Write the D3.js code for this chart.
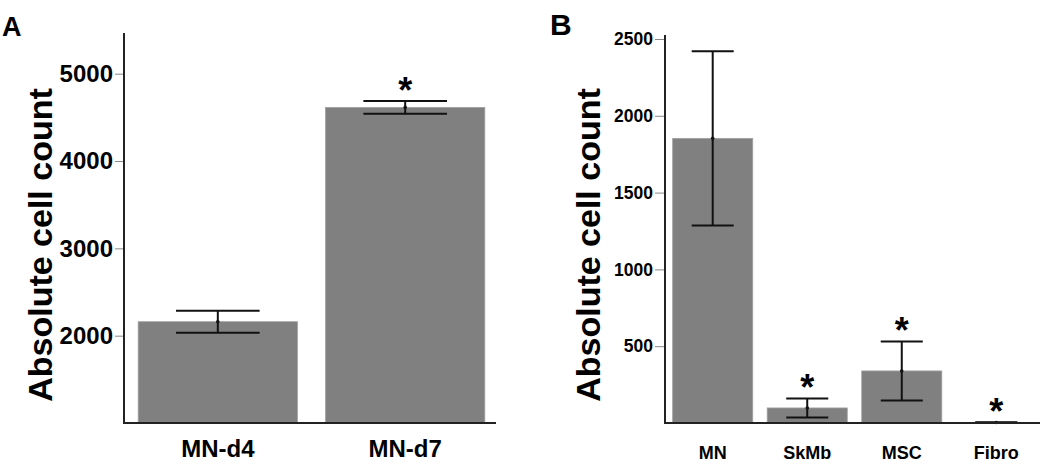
<!DOCTYPE html>
<html>
<head>
<meta charset="utf-8">
<script src="https://cdn.jsdelivr.net/npm/d3@7"></script>
<style>
  html, body { margin: 0; padding: 0; background: #fff; }
  svg { display: block; font-family: "Liberation Sans", Arial, Helvetica, sans-serif; }
  text { font-weight: bold; fill: #000; }
</style>
</head>
<body>
<svg id="chart" width="1050" height="476"></svg>
<script>
// ---- Panel A data ----
const catsA = ["MN-d4", "MN-d7"];
const valsA = [2160, 4614];
const errA = [126, 74];
const sigA = [false, true];
const ticksA = [2000, 3000, 4000, 5000];

// ---- Panel B data ----
const catsB = ["MN", "SkMb", "MSC", "Fibro"];
const valsB = [1853, 98, 339, 3];
const errB = [568, 62, 192, 2];
const sigB = [false, true, true, true];
const ticksB = [500, 1000, 1500, 2000, 2500];

const yTitle = "Absolute cell count";

const svg = d3.select("#chart");
const barColor = "#808080";

function panel(opts) {
  const g = svg.append("g");
  const x = d3.scaleBand(opts.cats, opts.xRange)
    .paddingInner(opts.padIn).paddingOuter(opts.padOut);
  const y = d3.scaleLinear(opts.domain, [opts.base, opts.top]);

  // bars
  g.selectAll("rect.bar").data(opts.cats).join("rect")
    .attr("class", "bar")
    .attr("x", d => x(d))
    .attr("width", x.bandwidth())
    .attr("y", (d, i) => y(opts.vals[i]))
    .attr("height", (d, i) => Math.max(0, opts.base - y(opts.vals[i])))
    .attr("fill", barColor)
    .attr("stroke", "#a0a0a0")
    .attr("stroke-width", 0.8);

  // error bars
  const capW = x.bandwidth() * 0.525;
  const eb = g.selectAll("g.err").data(opts.cats).join("g").attr("class", "err")
    .attr("transform", d => `translate(${x(d) + x.bandwidth() / 2},0)`);
  eb.append("line")
    .attr("y1", (d, i) => y(opts.vals[i] + opts.errs[i]))
    .attr("y2", (d, i) => y(opts.vals[i] - opts.errs[i]))
    .attr("stroke", "#111").attr("stroke-width", 2);
  eb.append("line")
    .attr("x1", -capW / 2).attr("x2", capW / 2)
    .attr("y1", (d, i) => y(opts.vals[i] + opts.errs[i]))
    .attr("y2", (d, i) => y(opts.vals[i] + opts.errs[i]))
    .attr("stroke", "#111").attr("stroke-width", 2);
  eb.append("line")
    .attr("x1", -capW / 2).attr("x2", capW / 2)
    .attr("y1", (d, i) => y(opts.vals[i] - opts.errs[i]))
    .attr("y2", (d, i) => y(opts.vals[i] - opts.errs[i]))
    .attr("stroke", "#111").attr("stroke-width", 2);
  eb.append("circle")
    .attr("cy", (d, i) => y(opts.vals[i]))
    .attr("r", 1.8).attr("fill", "#111");
  // significance stars
  eb.filter((d, i) => opts.sig[i]).append("text")
    .attr("text-anchor", "middle")
    .attr("y", d => { const i = opts.cats.indexOf(d); return y(opts.vals[i] + opts.errs[i]) + 2; })
    .style("font-size", "36px")
    .text("*");

  // y axis
  const ya = g.append("g")
    .attr("transform", `translate(${opts.axisX},0)`)
    .call(d3.axisLeft(y).tickValues(opts.ticks).tickSize(opts.tickLen).tickPadding(2).tickFormat(d3.format("d")));
  ya.select(".domain").remove();
  ya.selectAll(".tick line").attr("stroke", "#888").attr("stroke-width", 1);
  ya.selectAll(".tick text").style("font-size", opts.tickFont + "px").style("font-weight", "bold")
    .attr("fill", "#000").style("font-family", "'Liberation Sans', Arial, sans-serif");

  // x axis labels
  const xa = g.append("g")
    .attr("transform", `translate(0,${opts.base})`)
    .call(d3.axisBottom(x).tickSize(0).tickPadding(opts.xPad));
  xa.select(".domain").remove();
  xa.selectAll(".tick text").style("font-size", opts.xFont + "px").style("font-weight", "bold")
    .attr("fill", "#000").style("font-family", "'Liberation Sans', Arial, sans-serif");

  // axis lines
  g.append("line").attr("x1", opts.axisX).attr("x2", opts.axisX)
    .attr("y1", opts.top).attr("y2", opts.base + 1)
    .attr("stroke", "#222").attr("stroke-width", 2);
  g.append("line").attr("x1", opts.axisX - 1).attr("x2", opts.axisRight)
    .attr("y1", opts.base).attr("y2", opts.base)
    .attr("stroke", "#222").attr("stroke-width", 2);

  // y title
  g.append("text")
    .attr("transform", `translate(${opts.titleX},245) rotate(-90)`)
    .attr("text-anchor", "middle")
    .style("font-size", "34px")
    .text(yTitle);

  // panel letter
  g.append("text")
    .attr("x", opts.letterX).attr("y", opts.letterY)
    .style("font-size", opts.letterFont + "px")
    .text(opts.letter);
}

panel({
  cats: catsA, vals: valsA, errs: errA, sig: sigA, ticks: ticksA,
  xRange: [126, 497], padIn: 0.15, padOut: 0.065,
  domain: [1000, 5466], base: 423, top: 33,
  axisX: 124, axisRight: 496, tickLen: 9, tickFont: 24,
  xFont: 24, xPad: 17, titleX: 52,
  letter: "A", letterX: 2, letterY: 36, letterFont: 27
});

panel({
  cats: catsB, vals: valsB, errs: errB, sig: sigB, ticks: ticksB,
  xRange: [667, 1042], padIn: 0.153, padOut: 0.06,
  domain: [0, 2526], base: 423, top: 35,
  axisX: 665, axisRight: 1040, tickLen: 10, tickFont: 17.5,
  xFont: 18, xPad: 23, titleX: 600,
  letter: "B", letterX: 550, letterY: 35, letterFont: 30
});
</script>
</body>
</html>
